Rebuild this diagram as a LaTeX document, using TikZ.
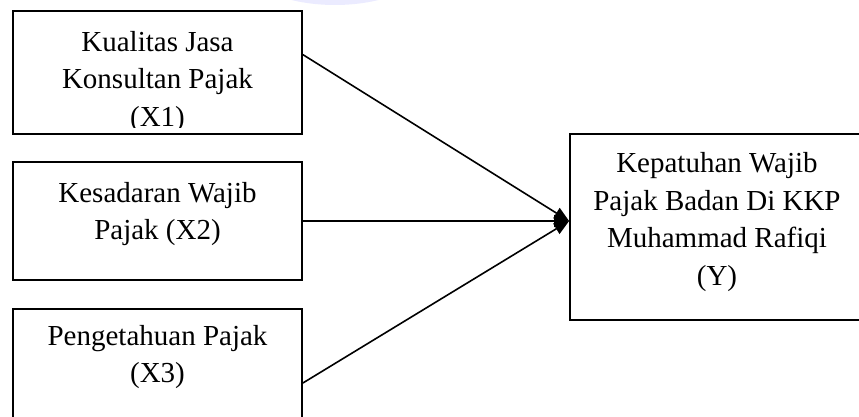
\documentclass[tikz,border=0pt]{standalone}
\usepackage{fontspec}
\setmainfont{Liberation Serif}
\usetikzlibrary{positioning,arrows.meta}

\tikzset{
 varbox/.style={draw, line width=1.8pt, rectangle, inner sep=0pt, minimum width=289pt},
 vartext/.style={align=center, inner sep=0pt, font=\fontsize{29}{37.5}\selectfont},
 link/.style={line width=1.6pt, -{Triangle[length=15pt,width=12pt]}}
}

\begin{document}
\begin{tikzpicture}[x=1pt,y=-1pt]

\clip (0,0) rectangle (859,417);
\fill[blue!8] (335,-40) ellipse (95 and 45); % faint mark at the top

\def\gap{21pt}
% independent variables
\node[varbox, minimum height=123pt] (x1) at (157.5,72.5) {};
\node[varbox, minimum height=118pt] (x2) at (157.5,221) {};
\node[varbox, minimum height=148pt] (x3) at (157.5,383) {};
% dependent variable
\node[varbox, minimum width=294pt, minimum height=186pt] (y) at (717,227) {};

\begin{scope} % X1 text runs past its box
 \clip (x1.north west) rectangle ([yshift=7pt]x1.south east);
 \node[vartext, below=\gap of x1.north] (x1text) {Kualitas Jasa\\Konsultan Pajak\\(X1)};
\end{scope}
\node[vartext, below=\gap of x2.north] (x2text) {Kesadaran Wajib\\Pajak (X2)};
\node[vartext, below=17pt of x3.north] (x3text) {Pengetahuan Pajak\\(X3)};
\node[vartext, below=19.5pt of y.north] (ytext) {Kepatuhan Wajib\\Pajak Badan Di KKP\\Muhammad Rafiqi\\(Y)};

% arrows
\coordinate (tip) at (x2.east -| y.west);
\draw[link] (x1.7) -- (tip);
\draw[link] (x2.east) -- (tip);
\draw[link] (x3.east) -- (tip);

\end{tikzpicture}
\end{document}
